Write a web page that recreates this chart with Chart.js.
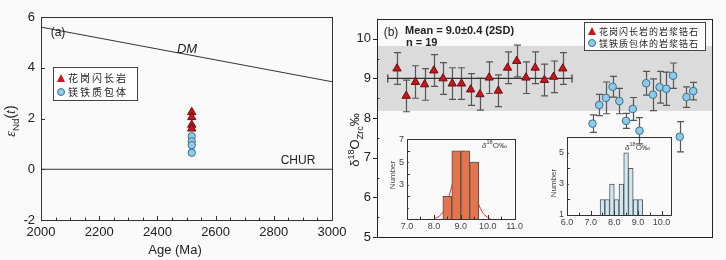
<!DOCTYPE html>
<html>
<head>
<meta charset="utf-8">
<script src="https://cdn.jsdelivr.net/npm/chart.js@4.4.1/dist/chart.umd.min.js"></script>
<style>
  body { margin: 0; background: #fafafa; font-family: "Liberation Sans", Arial, sans-serif; color: #222; }
  #wrap { position: relative; width: 726px; height: 260px; overflow: hidden; }
  .box { position: absolute; }
  .t { position: absolute; white-space: nowrap; line-height: 1; }
  .c { transform: translate(-50%, -50%); }
  .l { transform: translate(0, -50%); }
  .r90 { transform: translate(-50%, -50%) rotate(-90deg); }
  .cjk { font-family: "Noto Sans CJK SC", sans-serif; }
  .legend { position: absolute; border: 1px solid #444; background: #fff; }
  .tri { position: absolute; width: 0; height: 0; border-left: 4.5px solid transparent; border-right: 4.5px solid transparent; border-bottom: 8px solid #c8161d; transform: translate(-50%, -50%); }
  .dot { position: absolute; width: 6px; height: 6px; border-radius: 50%; background: #8fcbe8; border: 1px solid #3a6f8c; transform: translate(-50%, -50%); }
  sub, sup { font-size: 70%; }
</style>
</head>
<body>
<div id="wrap">
  <div class="box" style="left:0;top:0;width:360px;height:260px"><canvas id="chartA"></canvas></div>
  <div class="box" style="left:345px;top:0;width:381px;height:260px"><canvas id="chartB"></canvas></div>
  <div class="box" style="left:385px;top:131px;width:140px;height:103px"><canvas id="histL"></canvas></div>
  <div class="box" style="left:547px;top:129px;width:133px;height:101px"><canvas id="histR"></canvas></div>

  <!-- panel (a) text -->
  <div class="t c" style="left:58px;top:32px;font-size:12px">(a)</div>
  <div class="t c" style="left:187px;top:48px;font-size:13px;font-style:italic">DM</div>
  <div class="t c" style="left:298px;top:160px;font-size:12px">CHUR</div>
  <div class="t c" style="left:175px;top:249px;font-size:13px">Age (Ma)</div>
  <div class="t r90" style="left:12px;top:121px;font-size:14px"><i style="font-family:'Liberation Serif',serif">ε</i><sub>Nd</sub>(<i style="font-family:'Liberation Serif',serif">t</i>)</div>
  <div class="legend" style="left:53px;top:67px;width:83px;height:32px">
    <div class="tri" style="left:7px;top:10px"></div>
    <div class="t l cjk" style="left:14px;top:10px;font-size:10px;letter-spacing:2px">花岗闪长岩</div>
    <div class="dot" style="left:7px;top:24px"></div>
    <div class="t l cjk" style="left:14px;top:24px;font-size:10px;letter-spacing:2px">镁铁质包体</div>
  </div>

  <!-- panel (b) text -->
  <div class="t c" style="left:391px;top:32px;font-size:12px">(b)</div>
  <div class="t l" style="left:405px;top:30px;font-size:11px;font-weight:bold">Mean = 9.0±0.4 (2SD)</div>
  <div class="t l" style="left:406px;top:42px;font-size:11px;font-weight:bold">n = 19</div>
  <div class="t r90" style="left:356px;top:140px;font-size:13px">δ<sup>18</sup>O<sub>Zrc</sub>‰</div>
  <div class="legend" style="left:584px;top:22px;width:120px;height:27px">
    <div class="tri" style="left:7px;top:8px"></div>
    <div class="t l cjk" style="left:14px;top:8px;font-size:9px;letter-spacing:1px">花岗闪长岩的岩浆锆石</div>
    <div class="dot" style="left:7px;top:20px"></div>
    <div class="t l cjk" style="left:14px;top:20px;font-size:9px;letter-spacing:1px">镁铁质包体的岩浆锆石</div>
  </div>
  <div class="t l" style="left:482px;top:145px;font-size:8px;color:#444"><i>δ</i><sup>18</sup>O‰</div>
  <div class="t r90" style="left:393px;top:175px;font-size:8px;color:#444">Number</div>
  <div class="t l" style="left:625px;top:147px;font-size:8px;color:#444"><i>δ</i><sup>18</sup>O‰</div>
  <div class="t r90" style="left:554px;top:183px;font-size:8px;color:#444">Number</div>
</div>

<script>
// ---- panel (a): eNd(t) vs age ----
const ageGrano = [2518, 2518, 2518, 2518];
const endGrano = [2.25, 2.05, 1.75, 1.6];
const ageEnclave = [2518, 2518, 2518, 2518];
const endEnclave = [1.3, 1.1, 0.95, 0.65];
const dmAge = [2000, 3000];
const dmEnd = [5.6, 3.45];
const churAge = [2000, 3000];
const churEnd = [0, 0];

// ---- panel (b): zircon d18O by spot ----
const granoSpot = [1, 2, 3, 4, 5, 6, 7, 8, 9, 10, 11, 12, 13, 14, 15, 16, 17, 18, 19];
const granoO = [9.25, 8.56, 8.91, 8.85, 9.2, 9.0, 8.87, 8.87, 8.72, 8.6, 9.02, 8.69, 9.27, 9.44, 9.02, 9.27, 8.96, 9.04, 9.25];
const granoErr = [0.4, 0.4, 0.41, 0.4, 0.4, 0.4, 0.4, 0.4, 0.4, 0.4, 0.4, 0.4, 0.4, 0.4, 0.4, 0.4, 0.4, 0.4, 0.4];
const enclaveSpot = [1, 2, 3, 4, 5, 6, 7, 8, 9, 10, 11, 12, 13, 14, 15, 16];
const enclaveO = [7.86, 8.33, 8.51, 8.79, 8.43, 7.93, 8.23, 7.68, 8.88, 8.59, 8.78, 8.74, 9.07, 7.53, 8.53, 8.68];
const enclaveErr = [0.22, 0.27, 0.4, 0.26, 0.32, 0.19, 0.29, 0.33, 0.3, 0.4, 0.4, 0.42, 0.32, 0.38, 0.26, 0.22];
const meanSpot = [0, 20];
const meanO = [9.0, 9.0];
const bandO = [8.18, 9.82];

// ---- histograms ----
const granoBin = [8.5, 8.833, 9.167, 9.5];
const granoCount = [2, 6, 6, 5];
const fitX = [8.0, 8.2, 8.4, 8.6, 8.8, 9.0, 9.1, 9.2, 9.4, 9.6, 9.8, 10.0, 10.1];
const fitY = [0.05, 0.25, 0.9, 2.3, 4.2, 5.85, 5.95, 5.6, 3.7, 1.8, 0.6, 0.15, 0.05];
const granoYLabels = [3, 5, 7];
const enclaveBin = [7.5, 7.7, 7.9, 8.1, 8.3, 8.5, 8.7, 8.9, 9.1];
const enclaveCount = [2, 2, 3, 2, 3, 5, 4, 2, 2];
const enclaveYLabels = [1, 3, 5];

const RED = '#c8161d', RED_EDGE = '#6e0c0c';
const BLUE = '#8fcbe8', BLUE_EDGE = '#3a6f8c';

Chart.defaults.font.family = '"Liberation Sans", Arial, sans-serif';
Chart.defaults.color = '#222';
Chart.defaults.animation = false;
Chart.defaults.plugins.legend.display = false;
Chart.defaults.plugins.tooltip.enabled = false;

const pts = (xs, ys) => xs.map((x, i) => ({ x, y: ys[i] }));
const onStep = (v, k) => Math.abs(v / k - Math.round(v / k)) < 1e-6;
const noGrid = { display: false, drawTicks: false, tickLength: 0 };

// box around the plot area plus short ticks
const frame = {
  id: 'frame',
  afterDraw(chart, args, o) {
    const { ctx, chartArea: a } = chart;
    ctx.save();
    ctx.strokeStyle = o.color;
    ctx.lineWidth = 1;
    ctx.strokeRect(Math.round(a.left) + 0.5, Math.round(a.top) + 0.5, Math.round(a.right - a.left), Math.round(a.bottom - a.top));
    o.axes.forEach(ax => {
      const s = chart.scales[ax.id];
      s.ticks.forEach(t => {
        const v = t.value;
        if (!onStep(v, ax.minor)) return;
        const major = onStep(v, ax.major);
        const len = major ? ax.len : ax.len * 0.6;
        const dir = major && ax.out ? -1 : 1;
        const p = Math.round(s.getPixelForValue(v)) + 0.5;
        ctx.beginPath();
        if (s.isHorizontal()) {
          ctx.moveTo(p, a.bottom);
          ctx.lineTo(p, a.bottom - dir * len);
        } else {
          ctx.moveTo(a.left, p);
          ctx.lineTo(a.left + dir * len, p);
        }
        ctx.stroke();
      });
    });
    ctx.restore();
  }
};

// grey band and vertical error bars
const bandAndErrors = {
  id: 'bandAndErrors',
  beforeDatasetsDraw(chart) {
    const { ctx, chartArea: a, scales } = chart;
    const y0 = scales.y.getPixelForValue(bandO[1]);
    const y1 = scales.y.getPixelForValue(bandO[0]);
    ctx.save();
    ctx.fillStyle = '#dbdbdb';
    ctx.fillRect(a.left, y0, a.width, y1 - y0);
    ctx.strokeStyle = '#555';
    ctx.lineWidth = 1.2;
    chart.data.datasets.forEach((ds, i) => {
      if (!ds.errors) return;
      const meta = chart.getDatasetMeta(i);
      meta.data.forEach((pt, j) => {
        const v = ds.data[j].y, e = ds.errors[j];
        const top = scales.y.getPixelForValue(v + e);
        const bot = scales.y.getPixelForValue(v - e);
        const x = Math.round(pt.x) + 0.5;
        ctx.beginPath();
        ctx.moveTo(x, top); ctx.lineTo(x, bot);
        ctx.moveTo(x - 3.5, top); ctx.lineTo(x + 3.5, top);
        ctx.moveTo(x - 3.5, bot); ctx.lineTo(x + 3.5, bot);
        ctx.stroke();
      });
    });
    ctx.restore();
  }
};

// panel (a)
new Chart(document.getElementById('chartA'), {
  type: 'scatter',
  data: {
    datasets: [
      { data: pts(ageGrano, endGrano), pointStyle: 'triangle', pointRadius: 4.8, backgroundColor: RED, borderColor: RED_EDGE, borderWidth: 1 },
      { data: pts(ageEnclave, endEnclave), pointStyle: 'circle', pointRadius: 3.7, backgroundColor: BLUE, borderColor: BLUE_EDGE, borderWidth: 1 },
      { data: pts(dmAge, dmEnd), showLine: true, pointRadius: 0, borderColor: '#333', borderWidth: 1 },
      { data: pts(churAge, churEnd), showLine: true, pointRadius: 0, borderColor: '#333', borderWidth: 1 }
    ]
  },
  options: {
    responsive: true,
    maintainAspectRatio: false,
    layout: { padding: { top: 17, right: 28, left: 0, bottom: 0 } },
    scales: {
      x: {
        type: 'linear', min: 2000, max: 3000,
        grid: noGrid, border: { display: false },
        ticks: { stepSize: 50, autoSkip: false, maxRotation: 0, padding: 5, font: { size: 13 }, color: '#222',
          callback: v => (v % 200 === 0 ? v : '') },
        afterFit: s => { s.height = 40; }
      },
      y: {
        type: 'linear', min: -2, max: 6,
        grid: noGrid, border: { display: false },
        ticks: { stepSize: 2, padding: 6, font: { size: 13 }, color: '#222' },
        afterFit: s => { s.width = 41; }
      }
    },
    plugins: {
      frame: { color: '#333', axes: [
        { id: 'x', minor: 50, major: 200, len: 4, out: false },
        { id: 'y', minor: 2, major: 2, len: 4, out: false }
      ] }
    }
  },
  plugins: [frame]
});

// panel (b)
new Chart(document.getElementById('chartB'), {
  type: 'scatter',
  data: {
    datasets: [
      { data: pts(granoSpot, granoO), errors: granoErr, xAxisID: 'x', pointStyle: 'triangle', pointRadius: 4.8, backgroundColor: RED, borderColor: RED_EDGE, borderWidth: 1 },
      { data: pts(enclaveSpot, enclaveO), errors: enclaveErr, xAxisID: 'x2', pointStyle: 'circle', pointRadius: 3.8, backgroundColor: BLUE, borderColor: BLUE_EDGE, borderWidth: 1 },
      { data: pts(meanSpot, meanO), xAxisID: 'x', showLine: true, pointStyle: 'line', rotation: 90, pointRadius: 4, borderColor: '#333', borderWidth: 1.2 }
    ]
  },
  options: {
    responsive: true,
    maintainAspectRatio: false,
    layout: { padding: { top: 19, right: 14, left: 0, bottom: 23 } },
    scales: {
      x: { type: 'linear', display: false, min: -1.17, max: 35.2 },
      x2: { type: 'linear', display: false, min: -31.1, max: 18.8 },
      y: {
        type: 'linear', min: 5, max: 10.5,
        grid: noGrid, border: { display: false },
        ticks: { stepSize: 0.5, autoSkip: false, padding: 6, font: { size: 13 }, color: '#222',
          callback: v => (Number.isInteger(v) ? v : '') },
        afterFit: s => { s.width = 32; }
      }
    },
    plugins: {
      frame: { color: '#222', axes: [
        { id: 'y', minor: 0.5, major: 1, len: 4, out: true }
      ] }
    }
  },
  plugins: [bandAndErrors, frame]
});

// histogram insets
function histogram(id, bins, counts, fill, xr, yr, yLabels, extra, yAxisW) {
  const datasets = [
    { type: 'bar', data: pts(bins, counts), backgroundColor: fill, borderColor: '#555', borderWidth: 1,
      barPercentage: 1, categoryPercentage: 1 }
  ];
  if (extra) datasets.push(extra);
  return new Chart(document.getElementById(id), {
    type: 'bar',
    data: { datasets },
    options: {
      responsive: true,
      maintainAspectRatio: false,
      layout: { padding: { top: 5, right: 9, left: 0, bottom: 0 } },
      scales: {
        x: {
          type: 'linear', offset: false, min: xr[0], max: xr[1],
          grid: noGrid, border: { display: false },
          ticks: { stepSize: 0.5, includeBounds: false, autoSkip: false, maxRotation: 0, padding: 2, font: { size: 9 }, color: '#444',
            callback: v => (Number.isInteger(v) ? v.toFixed(1) : '') },
          afterFit: s => { s.height = 15; }
        },
        y: {
          type: 'linear', min: yr[0], max: yr[1],
          grid: noGrid, border: { display: false },
          ticks: { stepSize: 1, autoSkip: false, padding: 3, font: { size: 9 }, color: '#444',
            callback: v => (yLabels.includes(v) ? v : '') },
          afterFit: s => { s.width = yAxisW; }
        }
      },
      plugins: {
        frame: { color: '#333', axes: [
          { id: 'x', minor: 0.5, major: 1, len: 4, out: false },
          { id: 'y', minor: 1, major: 2, len: 3, out: false }
        ] }
      }
    },
    plugins: [frame]
  });
}

histogram('histL', granoBin, granoCount, '#e5744c', [7, 11], [0, 7], granoYLabels,
  { type: 'line', data: pts(fitX, fitY), borderColor: '#e0302a', borderWidth: 1, pointRadius: 0, tension: 0.4 }, 22);
histogram('histR', enclaveBin, enclaveCount, '#cfe6f3', [6, 10.4], [1, 6], enclaveYLabels, null, 20);
</script>
</body>
</html>
